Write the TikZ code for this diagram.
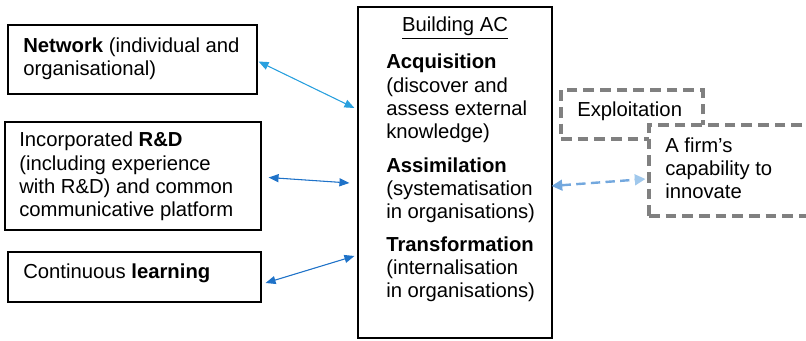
\documentclass[tikz,border=0pt]{standalone}
\usepackage{fontspec}
\setmainfont{Liberation Sans}
\usetikzlibrary{arrows.meta,calc,fit}

\definecolor{linkblue}{RGB}{41,160,222}
\definecolor{linkdark}{RGB}{30,114,200}
\definecolor{dashblue}{RGB}{115,168,222}
\definecolor{dashlight}{RGB}{160,200,236}
\definecolor{dashgray}{RGB}{128,128,128}

\tikzset{
  box/.style={draw=black, line width=0.85pt, inner sep=0pt},
  dbox/.style={draw=dashgray, line width=2.3pt, dash pattern=on 8pt off 4.5pt, fill=white, inner sep=0pt},
  % multi-line text is placed by the baseline of its last line
  txt/.style={font=\fontsize{15.2}{17.6}\selectfont, inner sep=0pt, align=left, anchor=base west},
  link/.style={line width=0.8pt, {Triangle[length=7.5pt,width=6pt]}-{Triangle[length=7.5pt,width=6pt]}},
}

\begin{document}
\begin{tikzpicture}[x=0.75pt, y=-0.75pt]
  \useasboundingbox (0,0) rectangle (806,341);
  \clip (0,0) rectangle (806,341);

  % left-hand boxes
  \node[box, fit={(8,25) (257,94)}] (net) {};
  \node[txt] (nettext) at (23,76) {\textbf{Network} (individual and\\organisational)};

  \node[box, fit={(5,122) (261,230)}] (rnd) {};
  \node[txt] (rndtext) at (19,217) {Incorporated \textbf{R\&D}\\(including experience\\with R\&D) and common\\communicative platform};

  \node[box, fit={(8,252) (261,302)}] (learn) {};
  \node[txt] (learntext) at (23,279) {Continuous \textbf{learning}};

  % central box
  \node[box, fit={(358,7) (552,338)}] (bac) {};
  \node[txt, anchor=base] (bactitle) at (455,32) {\underline{Building AC}};
  \node[txt] (acq) at (386,139) {\textbf{Acquisition}\\(discover and\\assess external\\knowledge)};
  \node[txt] (assim) at (386,219) {\textbf{Assimilation}\\(systematisation\\in organisations)};
  \node[txt] (trans) at (386,298) {\textbf{Transformation}\\(internalisation\\in organisations)};

  % right-hand dashed boxes
  \node[dbox, fit={(561,90) (703,139)}] (expl) {};
  \node[txt] (expltext) at (577,117) {Exploitation};
  \node[dbox, fit={(649,125) (830,216)}] (cap) {};
  \node[txt] (captext) at (665,199) {A firm’s\\capability to\\innovate};

  % connectors
  \draw[link, draw=linkblue, fill=linkblue] ($(net.east)+(1,2)$) -- ($(bac.west)+(-3,-64.5)$);
  \draw[link, draw=linkdark, fill=linkdark] ($(rnd.east)+(7,1.5)$) -- ($(bac.west)+(-8,10.5)$);
  \draw[link, draw=linkdark, fill=linkdark] ($(learn.east)+(4,6)$) -- ($(bac.west)+(-3,83.5)$);
  \draw[draw=dashblue, line width=1.8pt, dash pattern=on 7pt off 4pt,
        {Triangle[length=8pt,width=8pt,color=dashblue]}-{Triangle[length=8pt,width=8pt,color=dashlight]}]
        ($(bac.east)+(-1,13.5)$) -- ($(cap.west)+(-2,8.5)$);
\end{tikzpicture}
\end{document}
